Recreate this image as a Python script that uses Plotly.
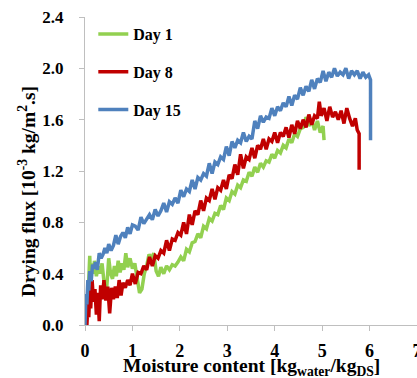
import plotly.graph_objects as go

# Day 1
x_day1 = [0.05,0.08,0.10,0.12,0.14,0.17,0.20,0.24,0.28,0.32,0.36,0.40,0.43,0.46,0.50,0.54,0.58,0.62,0.66,0.70,0.74,0.78,0.82,0.86,0.90,0.95,1.00,1.05,1.10,1.15,1.20,1.25,1.30,1.35,1.40,1.45,1.50,1.55,1.60,1.66,1.72,1.78,1.84,1.90,1.96,2.02,2.08,2.14,2.20,2.26,2.32,2.38,2.44,2.50,2.56,2.62,2.68,2.74,2.80,2.86,2.92,2.98,3.04,3.10,3.16,3.22,3.28,3.34,3.40,3.46,3.52,3.58,3.64,3.70,3.76,3.82,3.88,3.94,4.00,4.06,4.12,4.18,4.24,4.30,4.36,4.42,4.48,4.54,4.60,4.66,4.72,4.78,4.84,4.90,4.96,5.02,5.04]
y_day1 = [0.08,0.30,0.54,0.32,0.48,0.40,0.50,0.38,0.46,0.40,0.48,0.34,0.24,0.30,0.52,0.40,0.36,0.46,0.38,0.50,0.41,0.48,0.43,0.56,0.45,0.52,0.44,0.48,0.36,0.25,0.28,0.40,0.46,0.55,0.52,0.56,0.42,0.38,0.45,0.40,0.46,0.43,0.47,0.46,0.49,0.53,0.50,0.59,0.57,0.64,0.65,0.71,0.68,0.77,0.75,0.83,0.81,0.87,0.86,0.93,0.90,0.99,0.97,1.04,1.02,1.09,1.07,1.13,1.12,1.19,1.16,1.23,1.19,1.26,1.23,1.28,1.27,1.33,1.30,1.36,1.34,1.40,1.38,1.45,1.42,1.49,1.47,1.53,1.54,1.62,1.55,1.60,1.52,1.59,1.50,1.55,1.44]

# Day 8
x_day8 = [0.04,0.06,0.08,0.10,0.12,0.15,0.18,0.21,0.24,0.27,0.30,0.33,0.36,0.40,0.44,0.48,0.52,0.56,0.60,0.64,0.68,0.72,0.76,0.80,0.85,0.90,0.95,1.00,1.06,1.12,1.18,1.24,1.30,1.36,1.42,1.48,1.54,1.60,1.66,1.72,1.78,1.84,1.90,1.96,2.02,2.08,2.14,2.20,2.26,2.32,2.38,2.44,2.50,2.56,2.62,2.68,2.74,2.80,2.86,2.92,2.98,3.04,3.10,3.16,3.22,3.28,3.34,3.40,3.46,3.52,3.58,3.64,3.70,3.76,3.82,3.88,3.94,4.00,4.06,4.12,4.18,4.24,4.30,4.36,4.42,4.48,4.54,4.60,4.66,4.72,4.78,4.84,4.90,4.94,4.98,5.04,5.10,5.16,5.22,5.28,5.34,5.40,5.46,5.52,5.58,5.64,5.70,5.74,5.78,5.78]
y_day8 = [0.00,0.17,0.06,0.27,0.13,0.35,0.18,0.28,0.08,0.25,0.03,0.31,0.20,0.35,0.19,0.30,0.09,0.29,0.20,0.30,0.21,0.35,0.23,0.33,0.29,0.35,0.31,0.40,0.32,0.41,0.40,0.46,0.43,0.53,0.46,0.54,0.52,0.58,0.56,0.66,0.58,0.67,0.66,0.72,0.70,0.80,0.71,0.86,0.78,0.89,0.86,0.97,0.89,0.99,0.97,1.06,0.98,1.07,1.05,1.13,1.06,1.17,1.14,1.25,1.17,1.33,1.22,1.31,1.29,1.38,1.30,1.40,1.37,1.45,1.37,1.45,1.43,1.50,1.42,1.50,1.47,1.54,1.46,1.56,1.49,1.59,1.53,1.60,1.54,1.64,1.56,1.63,1.61,1.74,1.63,1.69,1.59,1.70,1.62,1.66,1.60,1.67,1.57,1.69,1.61,1.55,1.61,1.52,1.49,1.21]

# Day 15
x_day15 = [0.00,0.02,0.04,0.06,0.08,0.10,0.13,0.16,0.19,0.22,0.26,0.30,0.34,0.38,0.42,0.46,0.50,0.55,0.60,0.65,0.70,0.75,0.80,0.85,0.90,0.95,1.00,1.06,1.12,1.18,1.24,1.30,1.36,1.42,1.48,1.54,1.60,1.66,1.72,1.78,1.84,1.90,1.96,2.02,2.08,2.14,2.20,2.26,2.32,2.38,2.44,2.50,2.56,2.62,2.68,2.74,2.80,2.86,2.92,2.98,3.04,3.10,3.16,3.22,3.28,3.34,3.40,3.46,3.52,3.58,3.64,3.70,3.76,3.82,3.88,3.94,4.00,4.06,4.12,4.18,4.24,4.30,4.36,4.42,4.48,4.54,4.60,4.66,4.72,4.78,4.84,4.90,4.96,5.02,5.08,5.14,5.20,5.26,5.32,5.38,5.44,5.50,5.56,5.62,5.68,5.74,5.80,5.86,5.92,5.98,6.02,6.02]
y_day15 = [0.00,0.24,0.16,0.35,0.27,0.42,0.34,0.47,0.44,0.49,0.43,0.56,0.52,0.55,0.60,0.56,0.63,0.58,0.62,0.70,0.63,0.69,0.72,0.68,0.76,0.71,0.78,0.77,0.74,0.84,0.79,0.83,0.86,0.82,0.90,0.85,0.89,0.95,0.88,0.96,0.94,0.99,0.95,1.05,1.00,1.06,1.04,1.13,1.06,1.15,1.13,1.18,1.16,1.26,1.18,1.27,1.25,1.31,1.29,1.39,1.32,1.43,1.38,1.44,1.42,1.50,1.43,1.47,1.45,1.59,1.53,1.63,1.58,1.62,1.61,1.69,1.63,1.70,1.67,1.73,1.70,1.78,1.71,1.79,1.76,1.85,1.79,1.86,1.82,1.91,1.84,1.92,1.89,1.98,1.90,1.97,1.93,2.00,1.94,1.97,1.95,2.00,1.92,1.98,1.95,1.98,1.92,1.97,1.93,1.95,1.91,1.44]

x_ticks = [0, 1, 2, 3, 4, 5, 6, 7]
y_ticks = [0.0, 0.4, 0.8, 1.2, 1.6, 2.0, 2.4]

FONT = "Liberation Serif"

fig = go.Figure()
series = [
    ("Day 1", x_day1, y_day1, "#92D050"),
    ("Day 8", x_day8, y_day8, "#C00000"),
    ("Day 15", x_day15, y_day15, "#4F81BD"),
]
for name, xs, ys, col in series:
    fig.add_trace(go.Scatter(x=xs, y=ys, mode="lines", name=name,
                             legendgroup=name,
                             line=dict(color=col, width=3.5)))

fig.update_layout(
    width=417, height=378,
    margin=dict(l=85, r=0, t=17, b=53, autoexpand=False),
    paper_bgcolor="white", plot_bgcolor="white",
    font=dict(family=FONT, size=17, color="black"),
    showlegend=True,
    legend=dict(x=0.025, y=1.0, xanchor="left", yanchor="top",
                bgcolor="rgba(0,0,0,0)", tracegroupgap=14,
                font=dict(family=FONT, size=16, color="black", weight="bold")),
    xaxis=dict(range=[0, 7.0], tickvals=x_ticks,
               ticktext=[str(v) for v in x_ticks],
               showgrid=False, zeroline=False, showline=True,
               linecolor="#BFBFBF", linewidth=1, automargin=False,
               ticks="outside", ticklen=5, tickcolor="#BFBFBF",
               ticklabelstandoff=4, ticklabeloverflow="allow",
               tickfont=dict(family=FONT, size=18, weight="bold")),
    yaxis=dict(range=[0, 2.4], tickvals=y_ticks,
               ticktext=["%.1f" % v for v in y_ticks],
               showgrid=False, zeroline=False, showline=True,
               linecolor="#BFBFBF", linewidth=1, automargin=False,
               ticks="outside", ticklen=5, tickcolor="#BFBFBF",
               ticklabelstandoff=12,
               tickfont=dict(family=FONT, size=17, weight="bold")),
    annotations=[
        dict(text="<b>Moisture content [kg<sub>water</sub>/kg<sub>DS</sub>]</b>",
             xref="paper", yref="paper", x=(251 - 85) / 332, y=-(367 - 325) / 308,
             xanchor="center", yanchor="middle", showarrow=False,
             font=dict(family=FONT, size=19.5, color="black")),
        dict(text="<b>Drying flux [10<sup>-3</sup> kg/m<sup>2</sup>.s]</b>",
             xref="paper", yref="paper", x=-(85 - 27) / 332, y=(325 - 192) / 308,
             xanchor="center", yanchor="middle", showarrow=False, textangle=-90,
             font=dict(family=FONT, size=19.5, color="black")),
    ],
)

fig.write_html(
    "out.html",
    config={"displayModeBar": False},
    post_script="document.body.style.margin='0';document.body.style.overflow='hidden';",
)
